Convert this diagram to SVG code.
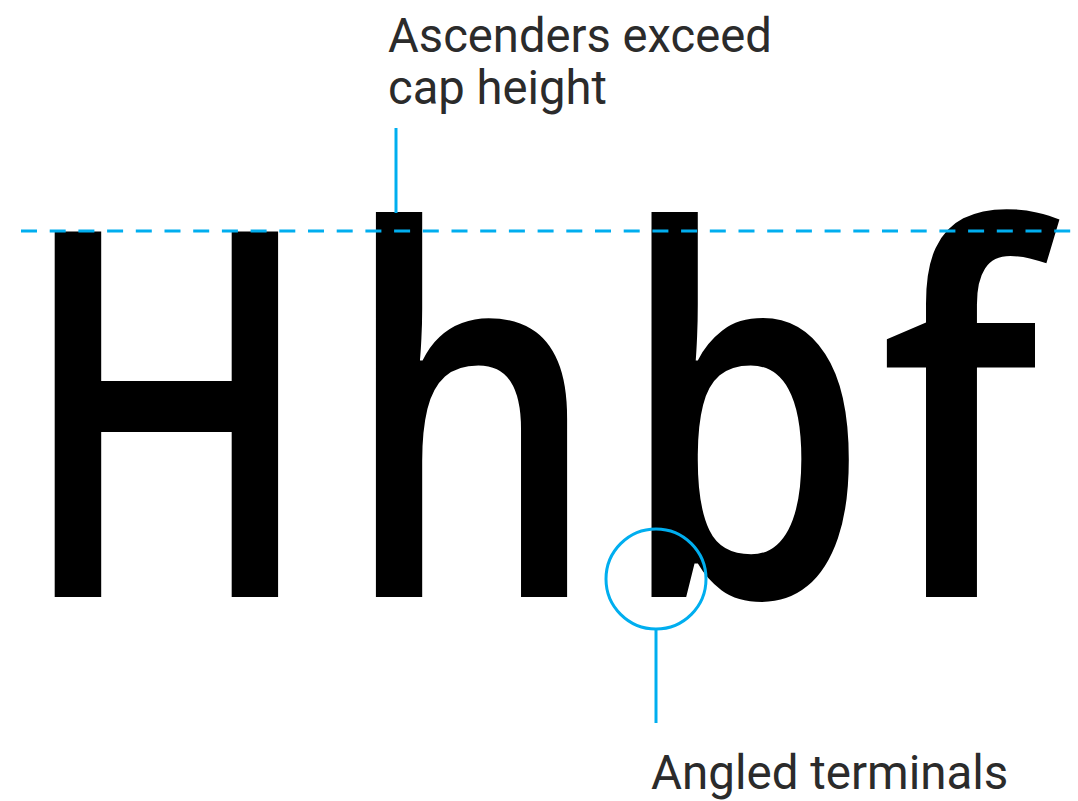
<svg xmlns="http://www.w3.org/2000/svg" width="1078" height="801" viewBox="0 0 1078 801">
<style>
.lbl{font-family:Roboto,"Liberation Sans",sans-serif;font-size:47.5px;fill:#2b2b2b}
.glyph{font-family:"Open Sans","Noto Sans",sans-serif;font-size:512px;font-weight:600;fill:#000}
.blue{stroke:#00aeef;fill:none;stroke-width:3}
</style>
<rect width="1078" height="801" fill="#fff"/>
<g id="glyphs">
<text id="g-H" class="glyph" transform="translate(17.5,597) scale(0.775,1)">H</text>
<text id="g-h" class="glyph" transform="translate(343,597) scale(0.786,0.99)">h</text>
<text id="g-b" class="glyph" transform="translate(618.6,597) scale(0.786,0.99)">b</text>
<text id="g-f" class="glyph" transform="translate(879.2,597) scale(0.865,0.99)">f</text>
</g>
<g id="connectors">
<line class="blue" x1="21" y1="231" x2="1078" y2="231" stroke-dasharray="16 12.7" stroke-width="2.6"/>
<line class="blue" x1="396" y1="128" x2="396" y2="213"/>
<circle class="blue" cx="656" cy="579" r="50"/>
<line class="blue" x1="656" y1="629" x2="656" y2="723"/>
</g>
<g id="label-ascenders">
<text class="lbl" x="388" y="52" style="font-size:47.2px">Ascenders exceed<tspan x="388" y="104">cap height</tspan></text>
</g>
<g id="label-terminals">
<text class="lbl" x="651" y="789">Angled terminals</text>
</g>
</svg>
